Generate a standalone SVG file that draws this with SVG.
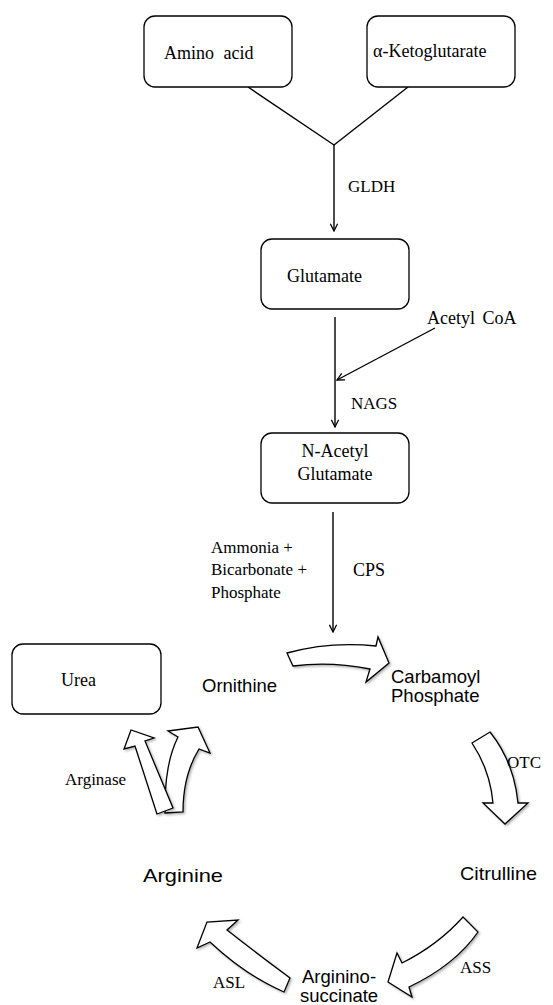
<svg xmlns="http://www.w3.org/2000/svg" width="553" height="1005" viewBox="0 0 553 1005">
<style>
.box{fill:#fff;stroke:#000;stroke-width:1.3}
.ln{fill:none;stroke:#000;stroke-width:1.4}
.blk{fill:#fff;stroke:#000;stroke-width:1.3;stroke-linejoin:miter}
.serif{font-family:"Liberation Serif","Times New Roman",serif;font-size:18px;fill:#000}
.sans{font-family:"Liberation Sans",Arial,sans-serif;font-size:18.5px;fill:#000}
.lbl{font-family:"Liberation Serif","Times New Roman",serif;font-size:17px;fill:#000}
</style>
<defs>
<marker id="vhead" viewBox="0 0 10 10" refX="9" refY="5" markerWidth="9" markerHeight="9" markerUnits="userSpaceOnUse" orient="auto">
<path d="M1,1 L9,5 L1,9" fill="none" stroke="#000" stroke-width="1.4"/>
</marker>
<filter id="sh" x="-20%" y="-20%" width="140%" height="140%">
<feDropShadow dx="1.5" dy="1.5" stdDeviation="1" flood-color="#000" flood-opacity="0.3"/>
</filter>
</defs>
<rect width="553" height="1005" fill="#fff"/>

<g id="connectors">
<line class="ln" x1="248" y1="87" x2="334" y2="145"/>
<line class="ln" x1="408" y1="87" x2="334" y2="145"/>
<line class="ln" x1="334" y1="145" x2="334" y2="231" marker-end="url(#vhead)"/>
<line class="ln" x1="335" y1="317" x2="335" y2="427" marker-end="url(#vhead)"/>
<line class="ln" x1="435" y1="328" x2="337" y2="380" marker-end="url(#vhead)"/>
<line class="ln" x1="333" y1="512" x2="333" y2="632" marker-end="url(#vhead)"/>
<!-- block arrows of the cycle -->
<path id="arr-ornithine-carbamoyl" class="blk" filter="url(#sh)" d="M287,653 Q330,641 376,646 L378,637 L389,663 L366,682 L370,669 Q330,661 293,666 Z"/>
<path id="arr-otc" class="blk" filter="url(#sh)" d="M472,743 L490,732 Q514,762 518,803 L528,803 L505,824 L483,803 L493,803 Q490,770 472,743 Z"/>
<path id="arr-ass" class="blk" filter="url(#sh)" d="M463,917 Q438,945 402,963 L397,953 L388,982 L412,997 L409,987 Q455,965 478,932 Z"/>
<path id="arr-asl" class="blk" filter="url(#sh)" d="M290,978 Q255,952 227,930 L238,920 L207,922 L197,948 L210,942 Q245,975 284,992 Z"/>
<path id="arr-arg-ornithine" class="blk" filter="url(#sh)" d="M165,813 Q164,765 178,737 L168,731 L198,727 L210,753 L199,749 Q183,775 183,812 Z"/>
<path id="arr-arginase" class="blk" filter="url(#sh)" d="M157,814 L135,746 L124,749 L131,730 L154,738 L145,741 L173,808 Z"/>
</g>

<g id="amino-acid">
<rect class="box" x="144" y="16" width="148" height="71" rx="11"/>
<text class="serif" x="164" y="59" word-spacing="5">Amino acid</text>
</g>
<g id="ketoglutarate">
<rect class="box" x="367" y="16" width="148" height="71" rx="11"/>
<text class="serif" x="373" y="57">α-Ketoglutarate</text>
</g>
<g id="gldh"><text class="lbl" x="348" y="192" font-size="17.5">GLDH</text></g>
<g id="glutamate">
<rect class="box" x="261" y="239" width="148" height="70" rx="11"/>
<text class="serif" x="287" y="282">Glutamate</text>
</g>
<g id="acetyl-coa"><text class="serif" x="427" y="324" word-spacing="3">Acetyl CoA</text></g>
<g id="nags"><text class="lbl" x="351" y="409" font-size="17.5">NAGS</text></g>
<g id="n-acetyl-glutamate">
<rect class="box" x="261" y="433" width="148" height="70" rx="11"/>
<text class="serif" x="335" y="457" text-anchor="middle">N-Acetyl</text>
<text class="serif" x="335" y="480" text-anchor="middle">Glutamate</text>
</g>
<g id="substrates">
<text class="lbl" x="211" y="553" font-size="17.5">Ammonia +</text>
<text class="lbl" x="211" y="575" font-size="17.5">Bicarbonate +</text>
<text class="lbl" x="211" y="598" font-size="17.5">Phosphate</text>
</g>
<g id="cps"><text class="serif" x="353" y="576">CPS</text></g>
<g id="urea">
<rect class="box" x="12" y="644" width="149" height="70" rx="11"/>
<text class="serif" x="61" y="686">Urea</text>
</g>
<g id="ornithine"><text class="sans" x="202" y="692">Ornithine</text></g>
<g id="carbamoyl-phosphate">
<text class="sans" x="391" y="683">Carbamoyl</text>
<text class="sans" x="391" y="702">Phosphate</text>
</g>
<g id="otc"><text class="lbl" x="507" y="768">OTC</text></g>
<g id="arginase"><text class="lbl" x="65" y="785">Arginase</text></g>
<g id="arginine"><text class="sans" x="143" y="882" textLength="80" lengthAdjust="spacingAndGlyphs">Arginine</text></g>
<g id="citrulline"><text class="sans" x="460" y="880" textLength="77" lengthAdjust="spacingAndGlyphs">Citrulline</text></g>
<g id="ass"><text class="lbl" x="460" y="973">ASS</text></g>
<g id="asl"><text class="lbl" x="213" y="988">ASL</text></g>
<g id="argininosuccinate">
<text class="sans" x="302" y="983">Arginino-</text>
<text class="sans" x="300" y="1002">succinate</text>
</g>
</svg>
